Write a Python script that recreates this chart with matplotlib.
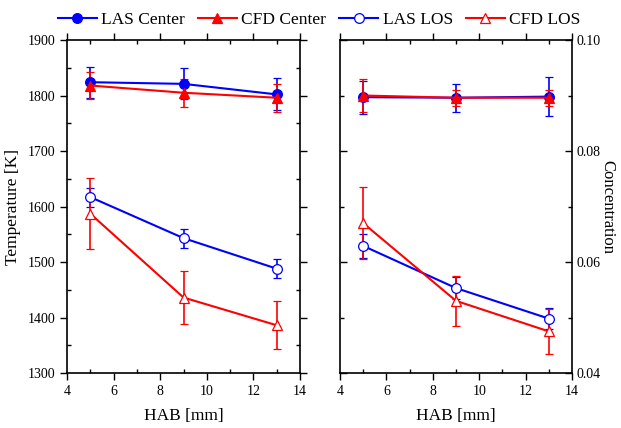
import matplotlib.pyplot as plt
from matplotlib.ticker import MultipleLocator

plt.rcParams['font.family'] = ['Liberation Serif', 'DejaVu Serif']

hab = [5, 9, 13]

# temperature [K]
tLasCenter = [1824, 1821, 1802]
tLasCenterErr = [28, 28, 29]
tCfdCenter = [1818, 1805, 1796]
tCfdCenterErr = [25, 25, 25]
tLasLos = [1617, 1543, 1488]
tLasLosErr = [17, 17, 17]
tCfdLos = [1587, 1436, 1386]
tCfdLosErr = [64, 47, 43]

# concentration
cLasCenter = [0.0897, 0.0896, 0.0898]
cLasCenterErr = [0.0030, 0.0025, 0.0035]
cCfdCenter = [0.0900, 0.0896, 0.0896]
cCfdCenterErr = [0.0030, 0.0014, 0.0014]
cLasLos = [0.0629, 0.0553, 0.0498]
cLasLosErr = [0.0021, 0.0020, 0.0019]
cCfdLos = [0.0670, 0.0530, 0.0475]
cCfdLosErr = [0.0065, 0.0045, 0.0040]

fig = plt.figure(figsize=(6.21, 4.28), dpi=100)
ax1 = fig.add_axes([0.1079, 0.1285, 0.3752, 0.778])
ax2 = fig.add_axes([0.5475, 0.1285, 0.3736, 0.778])


def draw(ax, series):
    handles = []
    for y, err, color, marker, filled, label in series:
        h = ax.errorbar(hab, y, yerr=err, color=color, ecolor=color, lw=1.5,
                        elinewidth=1.2, capsize=3, capthick=1.2,
                        marker=marker, markersize=7 if marker == 'o' else 7.5,
                        markerfacecolor=color if filled else 'white',
                        markeredgecolor=color, markeredgewidth=0.9, label=label)
        handles.append(h)
    return handles


def series(a, ae, b, be, c, ce, d, de):
    return [
        (c, ce, 'blue', 'o', False, 'LAS LOS'),
        (d, de, 'red', '^', False, 'CFD LOS'),
        (a, ae, 'blue', 'o', True, 'LAS Center'),
        (b, be, 'red', '^', True, 'CFD Center'),
    ]


h = draw(ax1, series(tLasCenter, tLasCenterErr, tCfdCenter, tCfdCenterErr,
                     tLasLos, tLasLosErr, tCfdLos, tCfdLosErr))
draw(ax2, series(cLasCenter, cLasCenterErr, cCfdCenter, cCfdCenterErr,
                 cLasLos, cLasLosErr, cCfdLos, cCfdLosErr))

ax1.set_ylim(1300, 1900)
ax1.yaxis.set_major_locator(MultipleLocator(100))
ax1.yaxis.set_minor_locator(MultipleLocator(50))
ax1.set_ylabel('Temperature [K]', fontsize=12.5, labelpad=5)

ax2.set_ylim(0.04, 0.10)
ax2.yaxis.set_major_locator(MultipleLocator(0.02))
ax2.yaxis.set_minor_locator(MultipleLocator(0.01))
ax2.yaxis.tick_right()
ax2.yaxis.set_label_position('right')
ax2.set_ylabel('Concentration', fontsize=12, rotation=270, labelpad=10)

for ax in (ax1, ax2):
    ax.set_xlim(4, 14)
    ax.xaxis.set_major_locator(MultipleLocator(2))
    ax.xaxis.set_minor_locator(MultipleLocator(1))
    ax.set_xlabel('HAB [mm]', fontsize=12.5, labelpad=7)
    ax.tick_params(which='both', direction='in', top=True, right=True,
                   left=True, labelsize=10, width=1)
    ax.tick_params(which='major', length=5)
    ax.tick_params(which='minor', length=3)
    for s in ax.spines.values():
        s.set_linewidth(1.2)

ax1.tick_params(axis='y', which='major', direction='out', right=True)
ax1.tick_params(axis='x', which='major', direction='out')
ax2.tick_params(axis='y', labelleft=False, labelright=True)
ax2.tick_params(axis='x', which='major', direction='out')

# legend shows only line + marker, no error bars
order = [2, 3, 0, 1]
fig.legend([h[i][0] for i in order], [h[i].get_label() for i in order],
           loc='center', bbox_to_anchor=(0.514, 0.953), ncol=4, frameon=False,
           fontsize=12.5, handlelength=2.25, handletextpad=0.25,
           columnspacing=0.75)

fig.savefig('out.png', dpi=100)
